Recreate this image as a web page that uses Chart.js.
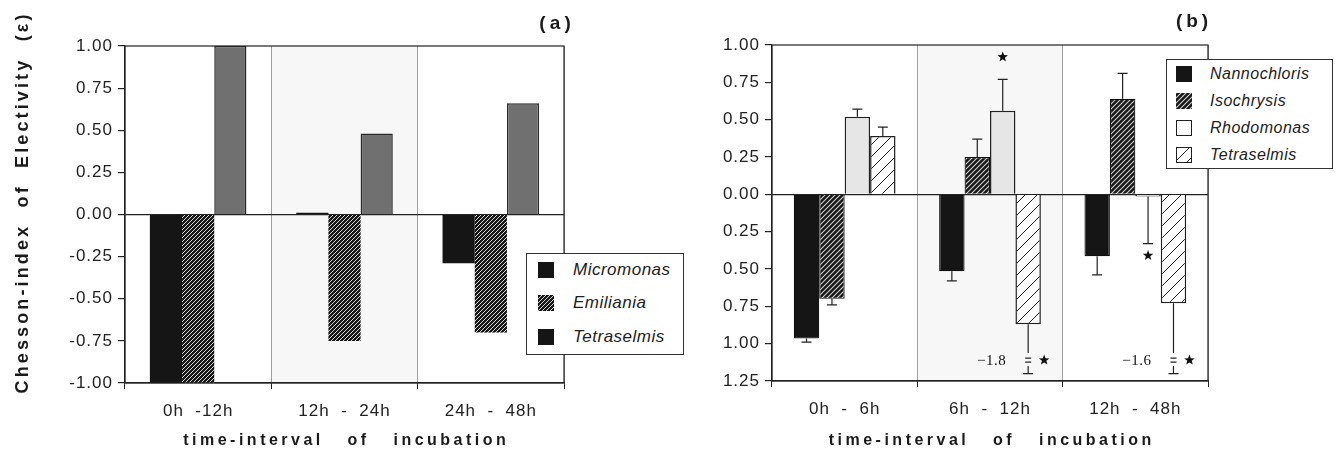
<!DOCTYPE html>
<html>
<head>
<meta charset="utf-8">
<script src="https://cdn.jsdelivr.net/npm/chart.js@4.4.0/dist/chart.umd.min.js"></script>
<style>
  body { margin: 0; background: #fff; width: 1336px; height: 452px; position: relative; overflow: hidden; font-family: "Liberation Sans", Arial, sans-serif; }
  canvas { position: absolute; top: 0; }
  #chartA { left: 0; }
  #chartB { left: 680px; }
  .legend { position: absolute; border: 1.5px solid #333; background: #fff; box-sizing: border-box; }
  .legend .item { position: absolute; left: 0; right: 0; height: 20px; }
  .legend .sw { position: absolute; width: 16px; height: 16px; top: 2px; box-sizing: border-box; }
  .legend .lb { position: absolute; top: 0; line-height: 20px; font-style: italic; color: #222; letter-spacing: 0.5px; white-space: nowrap; }
</style>
</head>
<body>
<canvas id="chartA" width="680" height="452"></canvas>
<canvas id="chartB" width="656" height="452"></canvas>
<div class="legend" id="legendA" style="left:526px;top:253px;width:158px;height:102px"></div>
<div class="legend" id="legendB" style="left:1166px;top:59px;width:167px;height:110px"></div>
<script>
// (a) data
const categoriesA = ['0h  -12h', '12h  -  24h', '24h  -  48h'];
const micromonas = [-1.00, 0.01, -0.29];
const emiliania = [-1.00, -0.75, -0.70];
const tetraselmisA = [1.00, 0.48, 0.66];

// (b) data
const categoriesB = ['0h  -  6h', '6h  -  12h', '12h  -  48h'];
const nannochloris = [-0.965, -0.515, -0.415];
const nannochlorisErr = [-0.99, -0.58, -0.54];
const isochrysis = [-0.70, 0.25, 0.64];
const isochrysisErr = [-0.74, 0.37, 0.81];
const rhodomonas = [0.52, 0.56, -0.015];
const rhodomonasErr = [0.57, 0.77, -0.33];
const rhodomonasStar = [null, 0.92, -0.41];
const tetraselmisB = [0.39, -0.87, -0.73];
const tetraselmisErr = [0.45, -1.8, -1.6];
const tetraselmisStar = [null, -1.11, -1.11];

const ticksA = { min: -1, max: 1, step: 0.25 };
const ticksB = { min: -1.25, max: 1, step: 0.25 };

const FONT = '"Liberation Sans", Arial, sans-serif';

//hatch tile
function hatch(bg, fg, size, lw) {
  const c = document.createElement('canvas');
  c.width = c.height = size;
  const x = c.getContext('2d');
  x.fillStyle = bg;
  x.fillRect(0, 0, size, size);
  x.strokeStyle = fg;
  x.lineWidth = lw;
  x.beginPath();
  x.moveTo(0, size); x.lineTo(size, 0);
  x.moveTo(-size / 2, size / 2); x.lineTo(size / 2, -size / 2);
  x.moveTo(size / 2, size * 1.5); x.lineTo(size * 1.5, size / 2);
  x.stroke();
  return { pattern: x.createPattern(c, 'repeat'), url: c.toDataURL() };
}

const denseA = hatch('#171717', '#d8d8d8', 4, 1);
const denseB = hatch('#171717', '#d0d0d0', 5, 1.1);
const sparse = hatch('#ffffff', '#222222', 12, 1);

//legend in html
function buildLegend(id, items, rows, swLeft, txtLeft, fontSize) {
  const box = document.getElementById(id);
  items.forEach((it, i) => {
    const row = document.createElement('div');
    row.className = 'item';
    row.style.top = rows[i] + 'px';
    const sw = document.createElement('span');
    sw.className = 'sw';
    sw.style.left = swLeft + 'px';
    sw.style.background = it.url ? 'url(' + it.url + ')' : it.color;
    if (it.border) sw.style.border = '1.5px solid #222';
    const lb = document.createElement('span');
    lb.className = 'lb';
    lb.style.left = txtLeft + 'px';
    lb.style.fontSize = fontSize + 'px';
    lb.textContent = it.label;
    row.appendChild(sw);
    row.appendChild(lb);
    box.appendChild(row);
  });
}

buildLegend('legendA', [
  { label: 'Micromonas', color: '#151515' },
  { label: 'Emiliania', url: denseA.url },
  { label: 'Tetraselmis', color: '#151515' }
], [6, 39, 73], 11, 46, 17);

buildLegend('legendB', [
  { label: 'Nannochloris', color: '#151515' },
  { label: 'Isochrysis', url: denseB.url },
  { label: 'Rhodomonas', color: '#fff', border: true },
  { label: 'Tetraselmis', url: sparse.url, border: true }
], [4, 31, 58, 85], 9, 43, 16);

//text with fixed length
function spacedText(ctx, text, x, y, target, font, rot) {
  ctx.save();
  ctx.font = font;
  ctx.letterSpacing = '0px';
  const w = ctx.measureText(text).width;
  const ls = Math.max(0, (target - w) / text.length);
  ctx.letterSpacing = ls.toFixed(2) + 'px';
  ctx.translate(x, y);
  if (rot) ctx.rotate(rot);
  ctx.textAlign = 'center';
  ctx.textBaseline = 'middle';
  ctx.fillStyle = '#1a1a1a';
  ctx.fillText(text, ls / 2, 0);
  ctx.restore();
}

function star(ctx, cx, cy, r) {
  ctx.beginPath();
  for (let k = 0; k < 10; k++) {
    const rr = k % 2 === 0 ? r : r * 0.42;
    const a = -Math.PI / 2 + k * Math.PI / 5;
    ctx.lineTo(cx + rr * Math.cos(a), cy + rr * Math.sin(a));
  }
  ctx.closePath();
  ctx.fill();
}

//background, spacing, frame
const framePlugin = {
  id: 'frame',
  beforeDraw(chart) {
    const { ctx, chartArea: a, scales: { x } } = chart;
    ctx.letterSpacing = '1px';
    const half = (x.getPixelForValue(1) - x.getPixelForValue(0)) / 2;
    ctx.save();
    ctx.fillStyle = '#f7f7f7';
    ctx.fillRect(x.getPixelForValue(1) - half, a.top, half * 2, a.bottom - a.top);
    ctx.restore();
  },
  afterDatasetsDraw(chart) {
    const { ctx, chartArea: a } = chart;
    ctx.save();
    ctx.strokeStyle = '#222';
    ctx.lineWidth = 1.2;
    ctx.strokeRect(a.left, a.top, a.right - a.left, a.bottom - a.top);
    ctx.restore();
  },
  afterDraw(chart, args, opts) {
    const { ctx, chartArea: a } = chart;
    const cx = (a.left + a.right) / 2;
    spacedText(ctx, 'time-interval   of   incubation', cx, 441, 326, 'bold 16px ' + FONT);
    if (opts.yTitle) spacedText(ctx, opts.yTitle, 23, 204, 382, 'bold 18px ' + FONT, -Math.PI / 2);
    spacedText(ctx, opts.panel, opts.panelX, opts.panelY, 36, 'bold 19px ' + FONT);
  }
};

//error bars and stars
const errorBarPlugin = {
  id: 'errorBars',
  afterDatasetsDraw(chart) {
    const { ctx, scales: { y } } = chart;
    const clipVal = -1.20;
    const breakVal = -1.11;
    ctx.save();
    ctx.strokeStyle = '#222';
    ctx.fillStyle = '#111';
    ctx.lineWidth = 1.2;
    chart.data.datasets.forEach((ds, i) => {
      const meta = chart.getDatasetMeta(i);
      meta.data.forEach((bar, j) => {
        const e = ds.errEnd ? ds.errEnd[j] : null;
        let broken = false;
        if (e !== null && e !== undefined) {
          broken = e < y.min;
          const capY = y.getPixelForValue(broken ? clipVal : e);
          ctx.beginPath();
          if (broken) {
            const by = y.getPixelForValue(breakVal);
            ctx.moveTo(bar.x, bar.y);
            ctx.lineTo(bar.x, by - 7);
            ctx.moveTo(bar.x - 3, by - 2); ctx.lineTo(bar.x + 3, by - 2);
            ctx.moveTo(bar.x - 3, by + 2); ctx.lineTo(bar.x + 3, by + 2);
            ctx.moveTo(bar.x, by + 6);
            ctx.lineTo(bar.x, capY);
            ctx.save();
            ctx.font = '15px "Liberation Serif", "Times New Roman", serif';
            ctx.letterSpacing = '0.5px';
            ctx.textAlign = 'right';
            ctx.textBaseline = 'middle';
            ctx.fillText('\u2212' + Math.abs(e).toFixed(1), bar.x - 22, by + 1);
            ctx.restore();
          } else {
            ctx.moveTo(bar.x, bar.y);
            ctx.lineTo(bar.x, capY);
          }
          ctx.moveTo(bar.x - 5, capY);
          ctx.lineTo(bar.x + 5, capY);
          ctx.stroke();
        }
        const s = ds.stars ? ds.stars[j] : null;
        if (s !== null && s !== undefined) {
          star(ctx, bar.x + (broken ? 16 : 0), y.getPixelForValue(s), 5.5);
        }
      });
    });
    ctx.restore();
  }
};

function scalesFor(t, yWidth, xHeight, absLabels) {
  return {
    x: {
      grid: { color: '#a0a0a0', tickColor: '#222', tickLength: 6, lineWidth: 1 },
      border: { display: true, color: '#222', width: 1.2 },
      ticks: { color: '#222', font: { family: FONT, size: 17 }, padding: 12 },
      afterFit: (s) => { s.height = xHeight; }
    },
    y: {
      min: t.min,
      max: t.max,
      grid: {
        color: (c) => (c.tick && c.tick.value === 0 ? '#222' : 'rgba(0,0,0,0)'),
        tickColor: '#222',
        tickLength: 7,
        lineWidth: 1.2
      },
      border: { display: true, color: '#222', width: 1.2 },
      ticks: {
        stepSize: t.step,
        color: '#222',
        padding: 5,
        font: { family: FONT, size: 17 },
        callback: (v) => (absLabels ? Math.abs(v) : v).toFixed(2)
      },
      afterFit: (s) => { s.width = yWidth; }
    }
  };
}

new Chart(document.getElementById('chartA').getContext('2d'), {
  type: 'bar',
  data: {
    labels: categoriesA,
    datasets: [
      { label: 'Micromonas', data: micromonas, backgroundColor: '#151515', borderWidth: 0 },
      { label: 'Emiliania', data: emiliania, backgroundColor: denseA.pattern, borderColor: '#111', borderWidth: 0 },
      { label: 'Tetraselmis', data: tetraselmisA, backgroundColor: '#707070', borderColor: '#2a2a2a', borderWidth: 1.5 }
    ]
  },
  options: {
    responsive: false,
    animation: false,
    datasets: { bar: { categoryPercentage: 0.66, barPercentage: 1.0 } },
    layout: { padding: { top: 46, right: 116, left: 0, bottom: 0 } },
    plugins: {
      legend: { display: false },
      tooltip: { enabled: false },
      frame: { yTitle: 'Chesson-index  of  Electivity  (\u03b5)', panel: '(a)', panelX: 555, panelY: 24 }
    },
    scales: scalesFor(ticksA, 125, 69, false)
  },
  plugins: [framePlugin]
});

new Chart(document.getElementById('chartB').getContext('2d'), {
  type: 'bar',
  data: {
    labels: categoriesB,
    datasets: [
      { label: 'Nannochloris', data: nannochloris, errEnd: nannochlorisErr, backgroundColor: '#151515', borderColor: '#111', borderWidth: 1.2 },
      { label: 'Isochrysis', data: isochrysis, errEnd: isochrysisErr, backgroundColor: denseB.pattern, borderColor: '#111', borderWidth: 1.2 },
      { label: 'Rhodomonas', data: rhodomonas, errEnd: rhodomonasErr, stars: rhodomonasStar, backgroundColor: '#e6e6e6', borderColor: '#222', borderWidth: 1.5 },
      { label: 'Tetraselmis', data: tetraselmisB, errEnd: tetraselmisErr, stars: tetraselmisStar, backgroundColor: sparse.pattern, borderColor: '#222', borderWidth: 1.5 }
    ]
  },
  options: {
    responsive: false,
    animation: false,
    datasets: { bar: { categoryPercentage: 0.70, barPercentage: 1.0 } },
    layout: { padding: { top: 45, right: 128, left: 0, bottom: 0 } },
    plugins: {
      legend: { display: false },
      tooltip: { enabled: false },
      frame: { yTitle: null, panel: '(b)', panelX: 512, panelY: 22 }
    },
    scales: scalesFor(ticksB, 92, 71, true)
  },
  plugins: [framePlugin, errorBarPlugin]
});
</script>
</body>
</html>
